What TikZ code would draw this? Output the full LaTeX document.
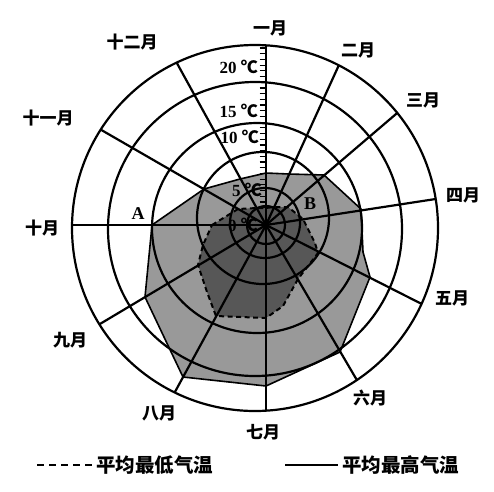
\documentclass[tikz,border=0pt]{standalone}
\usepackage{fontspec}
\newfontfamily\cjk{Noto Sans CJK SC}
\newfontfamily\tserif{Liberation Serif}
\newcommand{\degc}{{\cjk\bfseries ℃}}
\tikzset{
  ringline/.style={line width=2.2pt, draw=black},
  spoke/.style={line width=2.2pt, draw=black},
  month/.style={font=\cjk\bfseries\fontsize{17}{17}\selectfont, inner sep=0pt},
  temp/.style={font=\tserif\bfseries\fontsize{17}{17}\selectfont, inner sep=0pt, anchor=east},
  legendtxt/.style={font=\cjk\bfseries\fontsize{19.5}{19.5}\selectfont, inner sep=0pt, anchor=west},
  ptlabel/.style={font=\tserif\bfseries\fontsize{18}{18}\selectfont, inner sep=0pt},
  maxfill/.style={fill=black!40},
  minfill/.style={fill=black!66},
  maxline/.style={line width=1.6pt, draw=black, line join=round},
  minline/.style={line width=2pt, draw=black, dash pattern=on 5pt off 3.5pt},
  axtick/.style={line width=1.2pt, draw=black},
}
\begin{document}
\begin{tikzpicture}[x=1pt,y=-1pt]
\useasboundingbox (0,0) rectangle (494,491);
\fill[white] (0,0) rectangle (494,491);

% centre and outer ends of the month spokes
\coordinate (O) at (266,225);
\coordinate (E1) at (266,45.3);
\coordinate (E2) at (338.8,65.3);
\coordinate (E3) at (397.2,113);
\coordinate (E4) at (435.6,199);
\coordinate (E5) at (421.6,303.9);
\coordinate (E6) at (356.9,380.1);
\coordinate (E7) at (266,410.7);
\coordinate (E8) at (174.7,392.4);
\coordinate (E9) at (99.4,324.3);
\coordinate (E10) at (72,225);
\coordinate (E11) at (100.7,129.6);
\coordinate (E12) at (176.7,62.7);

% average maximum temperature area
\path[maxfill] (266,173) -- (289,174) -- (324,175) -- (361,209) -- (363,252)
  -- (370,277) -- (340,352) -- (266,386) -- (183,377) -- (145,297)
  -- (152,225) -- (204,189) -- (240,179) -- cycle;
% average minimum temperature area
\path[minfill] (212,225) -- (238,209) -- (257,208) -- (266,208) -- (274,207)
  -- (288,207) -- (303,219) -- (315,243) -- (318,253) -- (298,279)
  -- (283,306) -- (266,318) -- (216,316) -- (207,292) -- (198,265)
  -- (203,245) -- cycle;

% temperature labels
\node[temp] (t20) at (258,67) {20 \degc};
\node[temp] (t15) at (258,111) {15 \degc};
\node[temp] (t10) at (259,137) {10 \degc};
\node[temp] (t5) at (262,190) {5 \degc};
\node[temp] (t0) at (258,225) {0 \degc};

% rings
\draw[ringline] (255,228) circle[radius=183pt];
\draw[ringline] (255,229) circle[radius=147pt];
\draw[ringline] (257,228) circle[radius=105pt];
\draw[ringline] (263,218) circle[radius=66pt];
\draw[ringline] (265,223) circle[radius=35pt];
\draw[ringline] (266,225) circle[radius=19pt];

% spokes
\foreach \k in {1,...,12} \draw[spoke] (O) -- (E\k);

% outlines
\draw[maxline] (266,173) -- (289,174) -- (324,175) -- (361,209) -- (363,252)
  -- (370,277) -- (340,352) -- (266,386) -- (183,377) -- (145,297)
  -- (152,225) -- (204,189) -- (240,179) -- cycle;
\draw[minline] (212,225) -- (238,209) -- (257,208) -- (266,208) -- (274,207)
  -- (288,207) -- (303,219) -- (315,243) -- (318,253) -- (298,279)
  -- (283,306) -- (266,318) -- (216,316) -- (207,292) -- (198,265)
  -- (203,245) -- cycle;

% axis ticks
\foreach \i in {0,...,28} \draw[axtick] (259.5,48+5.7*\i) -- (266,48+5.7*\i);

% point labels
\node[ptlabel] (A) at (138,214) {A};
\node[ptlabel] (B) at (310,204) {B};

% month labels
\node[month] (m1) at (270,28) {一月};
\node[month] (m2) at (358,50) {二月};
\node[month] (m3) at (423,100) {三月};
\node[month] (m4) at (463,195) {四月};
\node[month] (m5) at (452,298) {五月};
\node[month] (m6) at (370,398) {六月};
\node[month] (m7) at (263,432) {七月};
\node[month] (m8) at (159,413) {八月};
\node[month] (m9) at (70,340) {九月};
\node[month] (m10) at (42,228) {十月};
\node[month] (m11) at (48,118) {十一月};
\node[month] (m12) at (132,42) {十二月};

% legend
\coordinate (L1a) at (37,465);
\coordinate (L1b) at (93,465);
\draw[line width=2.4pt, dash pattern=on 7pt off 5pt] (L1a) -- (L1b);
\node[legendtxt] (leg1) at (96,465) {平均最低气温};
\coordinate (L2a) at (285,465);
\coordinate (L2b) at (338,465);
\draw[line width=2.4pt] (L2a) -- (L2b);
\node[legendtxt] (leg2) at (342,465) {平均最高气温};
\end{tikzpicture}
\end{document}
